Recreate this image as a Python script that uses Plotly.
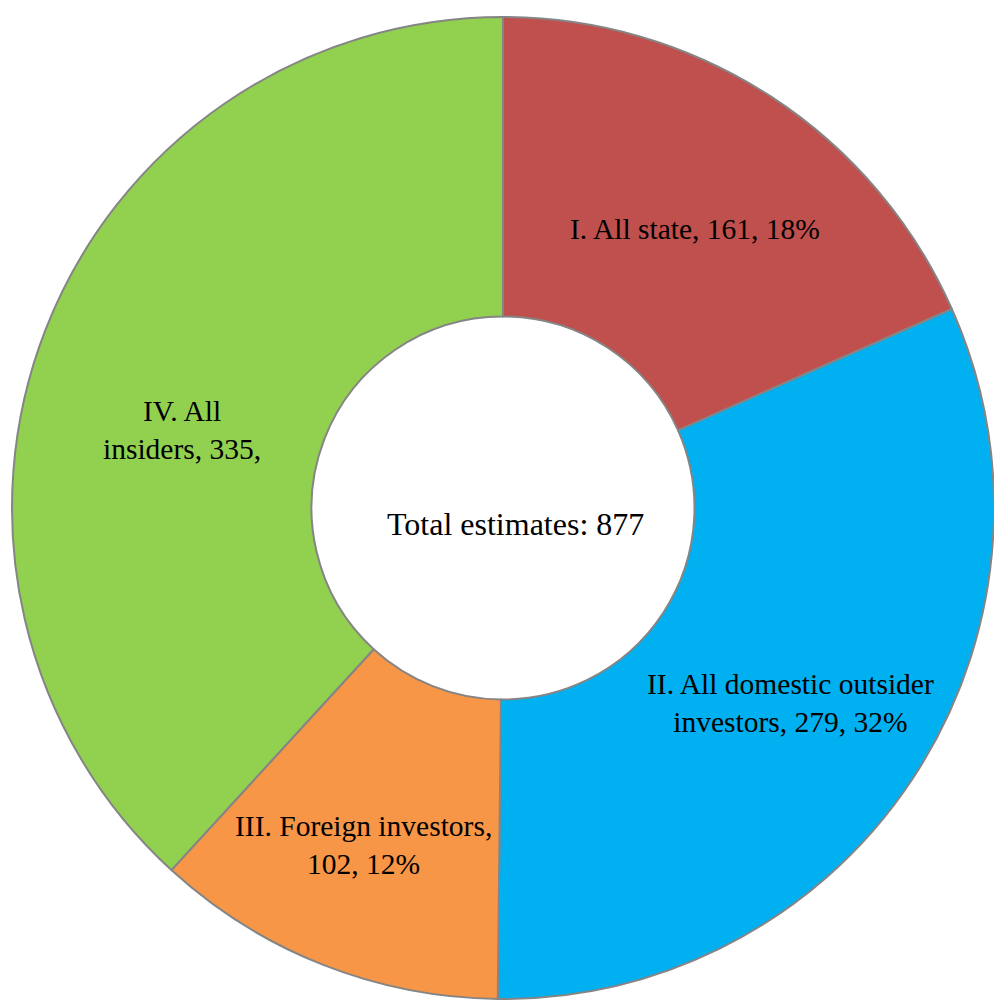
import math
import plotly.graph_objects as go

# Ownership groups of the estimates
categories = ["I. All state", "II. All domestic outsider investors",
              "III. Foreign investors", "IV. All insiders"]
display_names = ["I. All state", "II. All domestic outsider<br>investors",
                 "III. Foreign investors", "IV. All<br>insiders"]
values = [161, 279, 102, 335]
name_sep = [", ", ", ", ",<br>", ", "]
show_pct = [True, True, True, False]
colors = ["#C0504D", "#00B0F0", "#F79646", "#92D050"]

W, H = 994, 1001
ML, MR, MT, MB = 12, 0, 15, 0
plot_w, plot_h = W - ML - MR, H - MT - MB
radius_px = min(plot_w, plot_h) / 2
hole = 0.39
label_r = 0.695 * radius_px
# pixel nudges (dx right, dy down) for each slice label
label_nudge = [(6, 7), (2, 7), (-14, 20), (-3, 46)]

FONT = "Liberation Serif, Times New Roman, serif"
FS = 29.5
FS_CENTER = 32

total = sum(values)

fig = go.Figure(go.Pie(
    labels=categories,
    values=values,
    hole=hole,
    sort=False,
    direction="clockwise",
    rotation=0,
    marker=dict(colors=colors, line=dict(color="#858585", width=2)),
    textinfo="none",
    showlegend=False,
    hovertemplate="%{label}: %{value} (%{percent})<extra></extra>",
))

annotations = []
cum = 0
for name, v, sep, sp, (dx, dy) in zip(display_names, values, name_sep, show_pct, label_nudge):
    mid = (cum + v / 2) / total * 2 * math.pi
    cum += v
    pct = f" {round(100 * v / total)}%" if sp else ""
    text = f"{name}{sep}{v},{pct}"
    x = 0.5 + label_r * math.sin(mid) / plot_w
    y = 0.5 + label_r * math.cos(mid) / plot_h
    annotations.append(dict(
        x=x, y=y, xref="paper", yref="paper", text=text, showarrow=False,
        xanchor="center", yanchor="middle",
        xshift=dx, yshift=-dy, align="center",
        font=dict(family=FONT, size=FS, color="black"),
    ))

annotations.append(dict(
    x=0.5, y=0.5, xref="paper", yref="paper",
    xanchor="center", yanchor="middle", xshift=12, yshift=-16,
    text=f"Total estimates: {total}", showarrow=False,
    font=dict(family=FONT, size=FS_CENTER, color="black"),
))

fig.update_layout(
    width=W, height=H,
    margin=dict(l=ML, r=MR, t=MT, b=MB),
    paper_bgcolor="white",
    plot_bgcolor="white",
    annotations=annotations,
)

fig.write_html("out.html")
